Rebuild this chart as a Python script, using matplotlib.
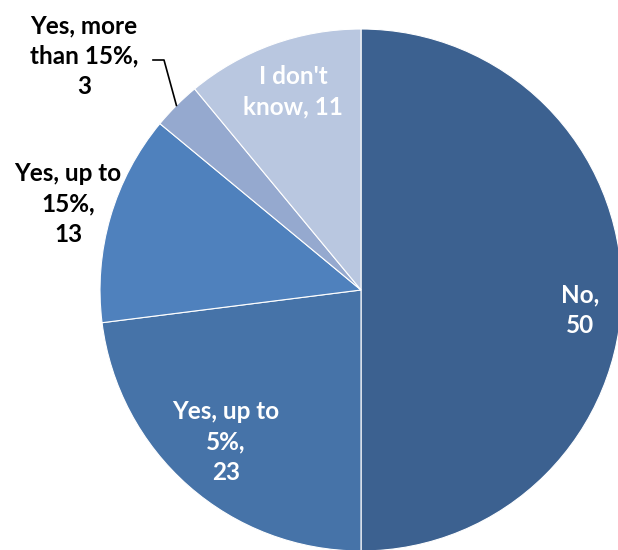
import matplotlib.pyplot as plt
import numpy as np

labels = ['No,\n50', 'Yes, up to\n5%,\n23', 'Yes, up to\n15%,\n13',
          'Yes, more\nthan 15%,\n3', "I don't\nknow, 11"]
values = [50, 23, 13, 3, 11]
colors = ['#3C6190', '#4673A8', '#4F81BD', '#95A9CF', '#B9C7E0']

W, H = 618, 550
cx, cy, r = 361, 290, 261


def to_data(px, py):
    # pixel position in the picture -> pie data coordinates
    return (px - cx) / r, (cy - py) / r


fig = plt.figure(figsize=(W / 100, H / 100), dpi=100)
ax = fig.add_axes([(cx - r) / W, (H - cy - r) / H, 2 * r / W, 2 * r / H])

wedges, _ = ax.pie(values, colors=colors, startangle=90, counterclock=False,
                   wedgeprops=dict(edgecolor='white', linewidth=0.8))
ax.set_xlim(-1, 1)
ax.set_ylim(-1, 1)
ax.set_aspect('equal')
ax.axis('off')

font = dict(family=['Lato', 'DejaVu Sans'], fontweight='bold', fontsize=17.5,
            ha='center', va='center', linespacing=1.38)

label_pos = [(580, 310), (226, 442), (68, 204), (84, 56), (293, 92)]
label_col = ['white', 'white', 'black', 'black', 'white']
for lab, (px, py), col in zip(labels, label_pos, label_col):
    x, y = to_data(px, py)
    ax.text(x, y, lab, color=col, clip_on=False, **font)

# leader line for the small slice
w = wedges[3]
mid = np.deg2rad((w.theta1 + w.theta2) / 2)
ex, ey = np.cos(mid), np.sin(mid)
sx, sy = to_data(153, 60)
kx, ky = to_data(164, 60)
ax.plot([sx, kx, ex], [sy, ky, ey], color='black', lw=1.2, clip_on=False)

fig.savefig('out.png', dpi=100)
